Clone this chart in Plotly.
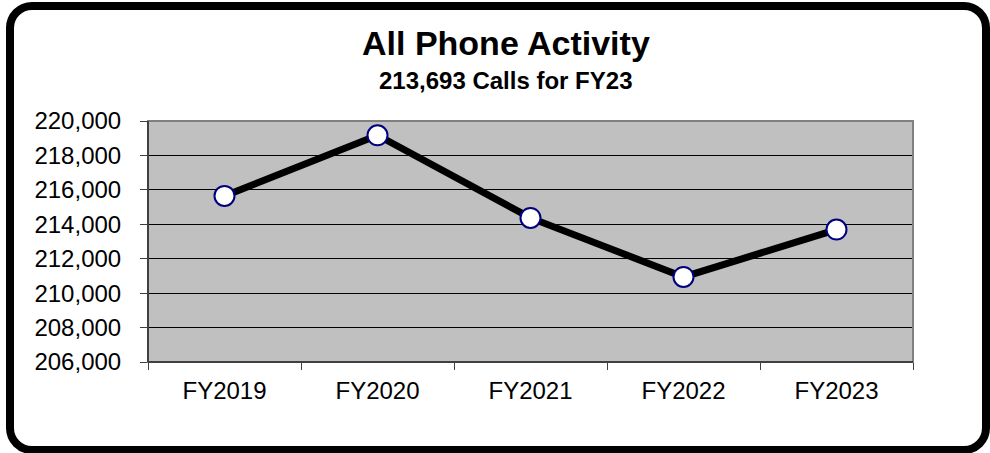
import plotly.graph_objects as go

categories = ["FY2019", "FY2020", "FY2021", "FY2022", "FY2023"]
calls = [215650, 219170, 214370, 210940, 213693]
y_ticks = [206000, 208000, 210000, 212000, 214000, 216000, 218000, 220000]
title_text = "All Phone Activity"
subtitle_text = "213,693 Calls for FY23"

W, H = 990, 453
L, R, T, B = 148, 913, 121, 362  # plot area in pixels


def px(x):
    return (x - L) / (R - L)


def py(y):
    return (B - y) / (B - T)


FONT = "Liberation Sans, Arial, sans-serif"

fig = go.Figure()
fig.add_trace(go.Scatter(
    x=categories, y=calls, mode="lines+markers",
    line=dict(color="black", width=7),
    marker=dict(size=20, color="white", line=dict(color="#000080", width=2)),
    showlegend=False, hoverinfo="x+y",
))

# rounded outer frame
x0, x1, y0, y1, r = 10, 986, 6, 450, 22
k = 0.552 * r
pts = [
    ("M", [(x0 + r, y0)]),
    ("L", [(x1 - r, y0)]),
    ("C", [(x1 - r + k, y0), (x1, y0 + r - k), (x1, y0 + r)]),
    ("L", [(x1, y1 - r)]),
    ("C", [(x1, y1 - r + k), (x1 - r + k, y1), (x1 - r, y1)]),
    ("L", [(x0 + r, y1)]),
    ("C", [(x0 + r - k, y1), (x0, y1 - r + k), (x0, y1 - r)]),
    ("L", [(x0, y0 + r)]),
    ("C", [(x0, y0 + r - k), (x0 + r - k, y0), (x0 + r, y0)]),
]
path = ""
for cmd, ps in pts:
    path += cmd + " " + " ".join(f"{px(a):.5f},{py(b):.5f}" for a, b in ps) + " "
path += "Z"

shapes = [
    dict(type="path", xref="paper", yref="paper", path=path,
         line=dict(color="black", width=8), fillcolor="rgba(0,0,0,0)", layer="above"),
    # plot border (top/right grey)
    dict(type="rect", xref="paper", yref="paper", x0=0, x1=1, y0=0, y1=1,
         line=dict(color="#808080", width=2), fillcolor="rgba(0,0,0,0)", layer="above"),
    # left and bottom axis lines (darker)
    dict(type="line", xref="paper", yref="paper", x0=0, x1=0, y0=0, y1=1,
         line=dict(color="#404040", width=2), layer="above"),
    dict(type="line", xref="paper", yref="paper", x0=0, x1=1, y0=0, y1=0,
         line=dict(color="#404040", width=2), layer="above"),
]

annotations = [
    dict(text=f"<b>{title_text}</b>", xref="paper", yref="paper", x=px(506), y=py(43),
         xanchor="center", yanchor="middle", showarrow=False,
         font=dict(family=FONT, size=34, color="black")),
    dict(text=f"<b>{subtitle_text}</b>", xref="paper", yref="paper", x=px(505), y=py(81),
         xanchor="center", yanchor="middle", showarrow=False,
         font=dict(family=FONT, size=24, color="black")),
]

fig.update_layout(
    width=W, height=H,
    margin=dict(l=L, r=W - R, t=T, b=H - B, pad=0),
    paper_bgcolor="white", plot_bgcolor="#C0C0C0",
    shapes=shapes, annotations=annotations,
    font=dict(family=FONT, color="black", size=24),
    showlegend=False,
)
fig.update_xaxes(
    type="category", range=[-0.5, 4.5], tickson="boundaries",
    ticks="outside", ticklen=7, tickwidth=1, tickcolor="#404040",
    showgrid=False, showline=False, zeroline=False,
    tickfont=dict(family=FONT, size=24, color="black"), ticklabelstandoff=12,
)
fig.update_yaxes(
    range=[206000, 220000], tickvals=y_ticks, tickformat=",",
    ticks="outside", ticklen=7, tickwidth=1, tickcolor="#404040",
    showgrid=True, gridcolor="black", gridwidth=1, zeroline=False, showline=False,
    tickfont=dict(family=FONT, size=24, color="black"), ticklabelstandoff=14,
)

fig.write_html(
    "out.html",
    config={"displayModeBar": False},
    post_script="document.body.style.margin='0';document.body.style.overflow='hidden';",
)
